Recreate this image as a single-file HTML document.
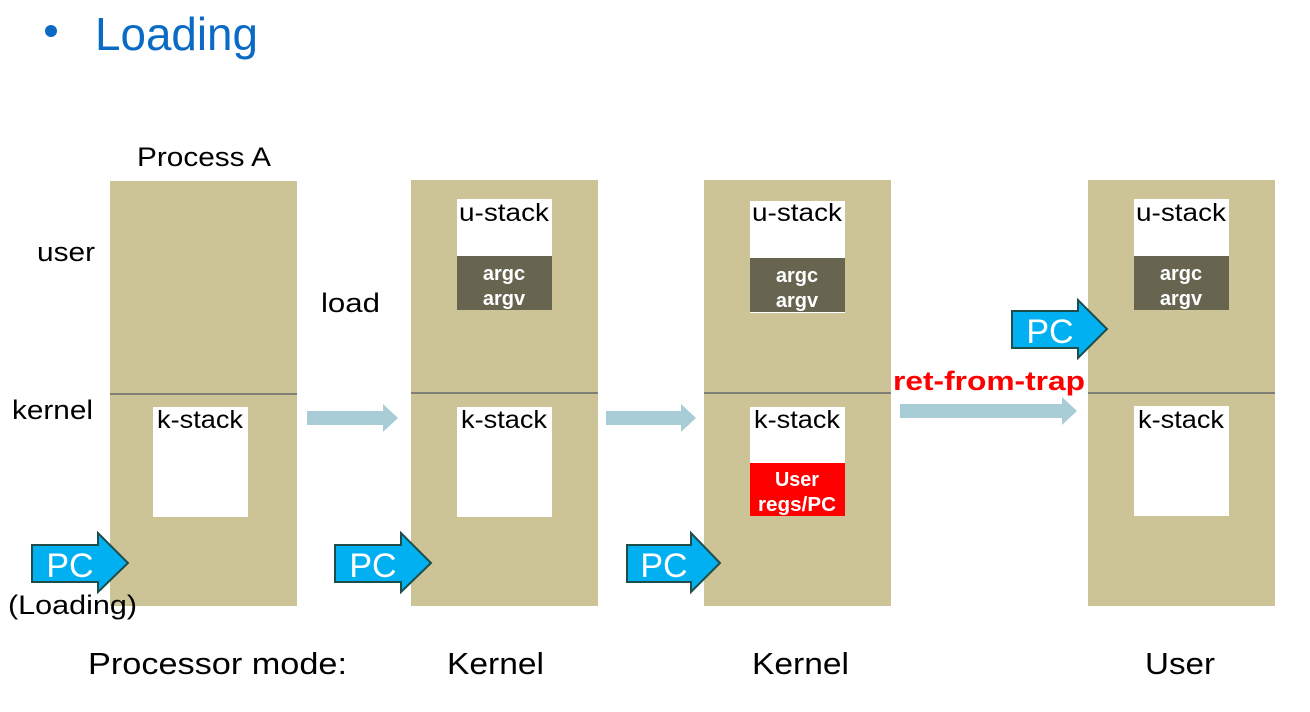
<!DOCTYPE html>
<html><head><meta charset="utf-8"><style>
html,body{margin:0;padding:0;background:#fff;}
svg{display:block;font-family:"Liberation Sans",sans-serif;}
</style></head><body>
<svg width="1310" height="712" viewBox="0 0 1310 712" xmlns="http://www.w3.org/2000/svg">
<circle cx="51" cy="31" r="6" fill="#0a6ac4"/>
<text x="95" y="50" font-size="46" fill="#0a6ac4" textLength="163" lengthAdjust="spacingAndGlyphs">Loading</text>

<rect x="110" y="181" width="187" height="425" fill="#ccc497"/>
<rect x="411" y="180" width="187" height="426" fill="#ccc497"/>
<rect x="704" y="180" width="187" height="426" fill="#ccc497"/>
<rect x="1088" y="180" width="187" height="426" fill="#ccc497"/>
<g stroke="#7f7f76" stroke-width="2">
<line x1="110" y1="394" x2="297" y2="394"/>
<line x1="411" y1="393" x2="598" y2="393"/>
<line x1="704" y1="393" x2="891" y2="393"/>
<line x1="1088" y1="393" x2="1275" y2="393"/>
</g>

<g fill="#fff">
<rect x="153" y="407" width="95" height="110"/>
<rect x="457" y="199" width="95" height="111"/>
<rect x="457" y="407" width="95" height="110"/>
<rect x="750" y="201" width="95" height="112"/>
<rect x="750" y="407" width="95" height="109"/>
<rect x="1134" y="199" width="95" height="111"/>
<rect x="1134" y="406" width="95" height="110"/>
</g>
<g fill="#676450">
<rect x="457" y="256" width="95" height="54"/>
<rect x="750" y="258" width="95" height="54"/>
<rect x="1134" y="256" width="95" height="54"/>
</g>
<rect x="750" y="463" width="95" height="53" fill="#ff0000"/>

<g font-size="25" fill="#000" text-anchor="middle">
<text x="200" y="428" textLength="86" lengthAdjust="spacingAndGlyphs">k-stack</text>
<text x="504" y="221" textLength="90" lengthAdjust="spacingAndGlyphs">u-stack</text>
<text x="504" y="428" textLength="86" lengthAdjust="spacingAndGlyphs">k-stack</text>
<text x="797" y="221" textLength="90" lengthAdjust="spacingAndGlyphs">u-stack</text>
<text x="797" y="428" textLength="86" lengthAdjust="spacingAndGlyphs">k-stack</text>
<text x="1181" y="221" textLength="90" lengthAdjust="spacingAndGlyphs">u-stack</text>
<text x="1181" y="428" textLength="86" lengthAdjust="spacingAndGlyphs">k-stack</text>
</g>
<g font-size="20" font-weight="bold" fill="#fff" text-anchor="middle">
<text x="504" y="280">argc</text><text x="504" y="305">argv</text>
<text x="797" y="282">argc</text><text x="797" y="307">argv</text>
<text x="1181" y="280">argc</text><text x="1181" y="305">argv</text>
<text x="797" y="486" textLength="44" lengthAdjust="spacingAndGlyphs">User</text><text x="797" y="511" textLength="78" lengthAdjust="spacingAndGlyphs">regs/PC</text>
</g>

<g fill="#a9cdd6">
<polygon points="307,411 383,411 383,404 398,418 383,432 383,425 307,425"/>
<polygon points="606,411 681,411 681,404 696,418 681,432 681,425 606,425"/>
<polygon points="900,404 1062,404 1062,397 1077,411 1062,425 1062,418 900,418"/>
</g>
<text x="893" y="390" font-size="27" font-weight="bold" fill="#ff0000" textLength="192" lengthAdjust="spacingAndGlyphs">ret-from-trap</text>

<g fill="#00b0f0" stroke="#1e4d4a" stroke-width="2">
<polygon points="32,545 98,545 98,533 128,563 98,592 98,582 32,582"/>
<polygon points="335,545 401,545 401,533 431,563 401,592 401,582 335,582"/>
<polygon points="627,545 691,545 691,533 720,563 691,592 691,582 627,582"/>
<polygon points="1012,311 1078,311 1078,300 1107,329 1078,358 1078,348 1012,348"/>
</g>
<g font-size="34" fill="#fff" text-anchor="middle">
<text x="70" y="577">PC</text>
<text x="373" y="577">PC</text>
<text x="664" y="577">PC</text>
<text x="1050" y="343">PC</text>
</g>

<g font-size="27" fill="#000">
<text x="137" y="166" textLength="134" lengthAdjust="spacingAndGlyphs">Process A</text>
<text x="37" y="261" textLength="58" lengthAdjust="spacingAndGlyphs">user</text>
<text x="12" y="419" textLength="81" lengthAdjust="spacingAndGlyphs">kernel</text>
<text x="321" y="312" textLength="59" lengthAdjust="spacingAndGlyphs">load</text>
<text x="8" y="614" textLength="129" lengthAdjust="spacingAndGlyphs">(Loading)</text>
</g>
<g font-size="31" fill="#000">
<text x="88" y="674" textLength="259" lengthAdjust="spacingAndGlyphs">Processor mode:</text>
<text x="447" y="674" textLength="97" lengthAdjust="spacingAndGlyphs">Kernel</text>
<text x="752" y="674" textLength="97" lengthAdjust="spacingAndGlyphs">Kernel</text>
<text x="1145" y="674" textLength="70" lengthAdjust="spacingAndGlyphs">User</text>
</g>
</svg>
</body></html>
